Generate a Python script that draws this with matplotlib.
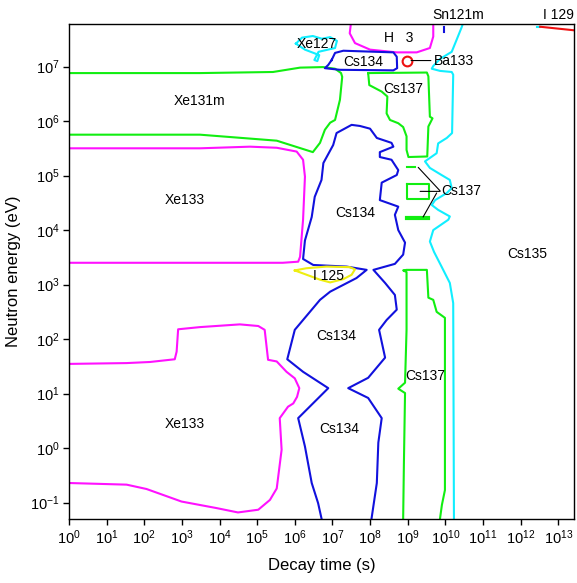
"""Nuclide contour map: decay time vs neutron energy."""

import numpy as np
import matplotlib
matplotlib.use('Agg')
import matplotlib.pyplot as plt

plt.rcParams['font.family'] = ['Liberation Sans', 'DejaVu Sans']
plt.rcParams['mathtext.fontset'] = 'custom'
plt.rcParams['mathtext.rm'] = 'Liberation Sans'
plt.rcParams['mathtext.it'] = 'Liberation Sans:italic'
plt.rcParams['mathtext.bf'] = 'Liberation Sans:bold'

# ---- data: log10(decay time / s), log10(neutron energy / eV) ----
xe131m_t = [0, 3.48, 5.42, 6.14, 6.75, 7.07, 7.23, 7.26, 7.20, 7.07, 6.94, 6.80, 6.67, 6.48, 5.52, 3.48, 0]
xe131m_e = [6.88, 6.88, 6.90, 6.98, 6.99, 6.96, 6.88, 6.81, 6.39, 6.02, 5.97, 5.84, 5.60, 5.43, 5.64, 5.75, 5.75]

xe133_hi_t = [0, 3.48, 4.81, 5.52, 6.05, 6.22, 6.27, 6.22, 6.14, 6.09, 5.68, 3.48, 0]
xe133_hi_e = [5.50, 5.50, 5.53, 5.51, 5.44, 5.29, 4.98, 4.19, 3.51, 3.42, 3.40, 3.40, 3.40]

xe133_lo_t = [0.0, 1.53, 2.15, 2.81, 2.86, 2.90, 3.48, 4.54, 5.03, 5.20, 5.29, 5.52, 5.78, 6.00,
              6.12, 6.06, 5.96, 5.82, 5.60, 5.65, 5.52, 5.34, 5.03, 4.49, 3.92, 2.99, 2.06, 1.53, 0.0]
xe133_lo_e = [1.545, 1.56, 1.58, 1.63, 1.77, 2.18, 2.22, 2.27, 2.24, 2.17, 1.62, 1.59, 1.40, 1.28,
              1.10, 0.94, 0.82, 0.76, 0.55, -0.03, -0.74, -0.95, -1.13, -1.18, -1.10, -0.98, -0.75, -0.67, -0.64]

h3_t = [7.51, 7.46, 7.60, 8.00, 8.71, 9.24, 9.59, 9.68, 9.68]
h3_e = [7.90, 7.61, 7.43, 7.31, 7.26, 7.26, 7.34, 7.55, 7.90]

xe127_t = [6.03, 6.19, 6.48, 6.72, 6.94, 7.12, 7.07, 6.63, 6.52, 6.60, 6.65, 6.27, 6.03]
xe127_e = [7.42, 7.53, 7.56, 7.51, 7.54, 7.47, 7.34, 7.27, 7.12, 7.10, 7.21, 7.31, 7.42]

cs134_box_t = [6.98, 7.07, 7.29, 8.62, 8.71, 8.72, 8.62, 7.20, 6.80, 6.89, 6.98]
cs134_box_e = [7.12, 7.25, 7.29, 7.26, 7.18, 6.97, 6.93, 6.94, 6.97, 7.03, 7.12]

cs134_t = [6.71, 6.62, 6.45, 6.27, 6.09, 6.89, 6.22, 5.80, 6.00, 6.67, 6.94, 7.64, 7.91, 7.38,
           6.49, 6.22, 6.27, 6.45, 6.53, 6.71, 6.76, 7.02, 7.11, 7.51, 7.73, 8.00, 8.18, 8.57,
           8.62, 8.26, 8.26, 8.57, 8.75, 8.71, 8.31, 8.26, 8.75, 8.66, 8.75, 8.93, 8.88, 8.66,
           8.09, 8.40, 8.66, 8.71, 8.44, 8.24, 8.40, 7.95, 7.42, 7.95, 8.31, 8.22, 8.18, 8.04]
cs134_e = [-1.29, -1.01, -0.64, 0.03, 0.55, 1.10, 1.40, 1.63, 2.17, 2.72, 2.87, 3.12, 3.27, 3.33,
           3.36, 3.47, 3.81, 4.24, 4.61, 4.92, 5.23, 5.56, 5.78, 5.93, 5.91, 5.86, 5.69, 5.60,
           5.53, 5.43, 5.34, 5.29, 5.10, 5.01, 4.87, 4.55, 4.43, 4.28, 4.00, 3.77, 3.55, 3.38,
           3.27, 3.03, 2.81, 2.54, 2.35, 2.17, 1.66, 1.29, 1.10, 0.92, 0.55, 0.10, -0.64, -1.29]

i125_t = [6.00, 6.31, 6.84, 7.46, 7.60, 7.51, 7.29, 6.94, 6.67, 6.00]
i125_e = [3.26, 3.30, 3.33, 3.32, 3.28, 3.18, 3.10, 3.04, 3.09, 3.26]

cs137_hi_t = [7.95, 9.51, 9.55, 9.59, 9.66, 9.55, 9.52, 9.02, 8.97, 8.97, 8.88, 8.75, 8.53,
              8.44, 8.46, 8.31, 7.98, 7.95]
cs137_hi_e = [6.88, 6.89, 6.82, 6.08, 6.05, 5.90, 5.35, 5.34, 5.47, 5.72, 5.89, 5.96, 6.02,
              6.14, 6.45, 6.54, 6.66, 6.88]

cs137_dash_t = [8.97, 9.19]
cs137_dash_e = [5.15, 5.15]
cs137_sq_t = [8.97, 9.57, 9.57, 8.97, 8.97]
cs137_sq_e = [4.84, 4.84, 4.57, 4.57, 4.84]
cs137_bar_t = [8.99, 9.53]
cs137_bar_e = [4.23, 4.23]

cs137_lo_t = [8.88, 8.90, 8.93, 8.75, 8.93, 8.97, 8.97, 8.88, 8.97, 9.51, 9.55, 9.68, 9.77,
              9.99, 9.99, 9.91, 9.86]
cs137_lo_e = [-1.29, -0.27, 1.01, 1.09, 1.20, 2.17, 3.23, 3.26, 3.27, 3.27, 2.76, 2.72, 2.50,
              2.39, -0.77, -1.04, -1.29]

cs135_t = [10.50, 10.44, 10.30, 10.17, 9.86, 9.68, 9.64, 9.86, 10.17, 10.21, 10.18, 10.04,
           9.81, 9.77, 9.46, 9.59, 9.90, 10.12, 10.17, 10.04, 9.73, 9.64, 9.81, 10.12, 10.08,
           9.68, 9.59, 9.70, 9.90, 10.12, 10.21, 10.23]
cs135_e = [7.86, 7.73, 7.49, 7.27, 7.14, 7.01, 6.96, 6.92, 6.90, 6.85, 5.78, 5.69, 5.59, 5.41,
           5.26, 5.14, 5.01, 4.92, 4.77, 4.68, 4.55, 4.46, 4.37, 4.25, 4.19, 4.00, 3.79, 3.60,
           3.33, 3.03, 2.66, -1.40]

cs135_top_t = [12.43, 12.52]
cs135_top_e = [7.73, 7.73]
i129_t = [12.52, 13.49]
i129_e = [7.73, 7.66]
sn121m_t = [9.97, 9.97]
sn121m_e = [7.73, 7.63]
ba133_t = [8.99]
ba133_e = [7.11]

# label text, log10 t, log10 E
labels = [
    ('Xe131m', 3.48, 6.36), ('Xe133', 3.08, 4.55), ('Xe133', 3.08, 0.44),
    ('Xe127', 6.58, 7.41), ('Cs134', 7.82, 7.08), ('H   3', 8.75, 7.52),
    ('Cs137', 8.88, 6.59), ('Cs134', 7.60, 4.32), ('I 125', 6.89, 3.16),
    ('Cs134', 7.11, 2.06), ('Cs134', 7.18, 0.35), ('Cs137', 9.46, 1.33),
    ('Cs135', 12.17, 3.56),
]

GREEN = '#11ee11'
MAGENTA = '#ff11ff'
BLUE = '#1111dd'
CYAN = '#11eeff'
YELLOW = '#eeee11'
RED = '#ee1111'


def p(a):
    return np.power(10.0, np.asarray(a, dtype=float))


fig = plt.figure(figsize=(5.77, 5.83), dpi=100)
ax = fig.add_axes([0.1196, 0.1098, 0.8752, 0.849])

lw = 1.5
curves = [
    (xe131m_t, xe131m_e, GREEN), (cs137_hi_t, cs137_hi_e, GREEN), (cs137_lo_t, cs137_lo_e, GREEN),
    (cs137_dash_t, cs137_dash_e, GREEN), (cs137_sq_t, cs137_sq_e, GREEN),
    (xe133_hi_t, xe133_hi_e, MAGENTA), (xe133_lo_t, xe133_lo_e, MAGENTA), (h3_t, h3_e, MAGENTA),
    (xe127_t, xe127_e, CYAN), (cs135_t, cs135_e, CYAN), (cs135_top_t, cs135_top_e, CYAN),
    (cs134_box_t, cs134_box_e, BLUE), (cs134_t, cs134_e, BLUE), (sn121m_t, sn121m_e, BLUE),
    (i125_t, i125_e, YELLOW), (i129_t, i129_e, RED),
]
for t, e, c in curves:
    ax.plot(p(t), p(e), color=c, lw=lw, solid_joinstyle='round')
ax.plot(p(cs137_bar_t), p(cs137_bar_e), color=GREEN, lw=3)

# Ba133 point
ax.plot(p(ba133_t), p(ba133_e), 'o', mfc='none', mec=RED, mew=1.5, ms=7)

# 文本标签
for s, t, e in labels:
    ax.text(10 ** t, 10 ** e, s, ha='center', va='center', fontsize=10)

# 引出线
lead = dict(arrowstyle='-', color='black', lw=0.8, shrinkA=0, shrinkB=0)
ax.annotate('Ba133', xy=(10 ** 9.09, 10 ** 7.11), xytext=(10 ** 9.69, 10 ** 7.11),
            ha='left', va='center', fontsize=10, arrowprops=lead)
ax.text(10 ** 9.90, 10 ** 4.71, 'Cs137', ha='left', va='center', fontsize=10)
for t0, e0, t1, e1 in [(9.28, 5.15, 9.86, 4.72), (9.33, 4.71, 9.86, 4.71), (9.41, 4.24, 9.77, 4.68)]:
    ax.annotate('', xy=(10 ** t0, 10 ** e0), xytext=(10 ** t1, 10 ** e1), arrowprops=lead)

# 轴外标签
ax.text(10 ** 10.35, 10 ** 7.95, 'Sn121m', ha='center', va='center', fontsize=10, clip_on=False)
ax.text(10 ** 13.0, 10 ** 7.95, 'I 129', ha='center', va='center', fontsize=10, clip_on=False)

ax.set_xscale('log')
ax.set_yscale('log')
ax.set_xlim(1, 10 ** 13.42)
ax.set_ylim(10 ** -1.3, 10 ** 7.78)
ax.set_xticks([10.0 ** k for k in range(0, 14)])
ax.set_yticks([10.0 ** k for k in range(-1, 8)])
ax.minorticks_off()
ax.tick_params(direction='out', length=4, width=1, labelsize=10.5, pad=3)
ax.set_xlabel('Decay time (s)', fontsize=12, labelpad=8)
ax.set_ylabel('Neutron energy (eV)', fontsize=12, labelpad=6)
for sp in ax.spines.values():
    sp.set_linewidth(1)

fig.savefig('out.png', dpi=100)
